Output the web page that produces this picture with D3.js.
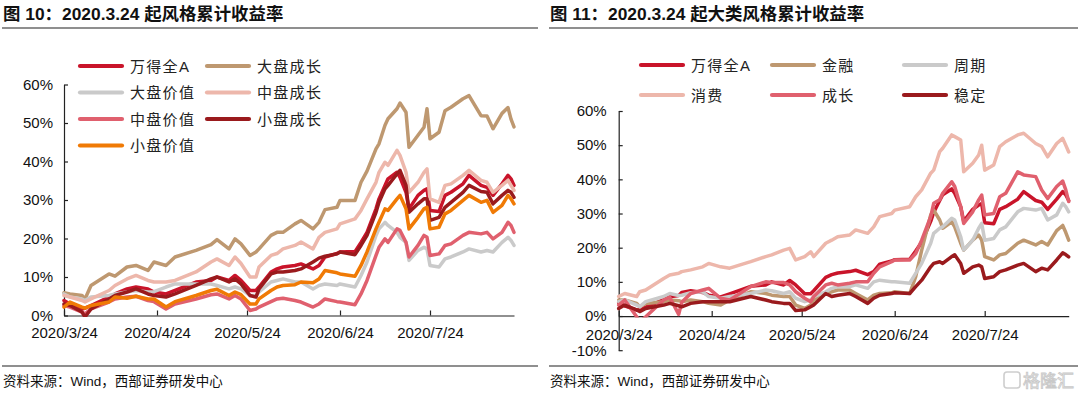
<!DOCTYPE html>
<html><head><meta charset="utf-8">
<script src="https://cdn.jsdelivr.net/npm/d3@7"></script>
<style>
body{margin:0;background:#fff;}
svg{display:block;}
text{font-family:"Liberation Sans","Noto Sans CJK SC",sans-serif;}
</style></head>
<body><svg id="c" width="1080" height="393"></svg>
<script>
// ---------- DATA ----------
const datesL = ["2020-03-24","2020-03-26","2020-03-30","2020-03-31","2020-04-02","2020-04-08","2020-04-10","2020-04-14","2020-04-17","2020-04-21","2020-04-23","2020-04-27","2020-04-30","2020-05-07","2020-05-12","2020-05-14","2020-05-18","2020-05-20","2020-05-22","2020-05-25","2020-05-27","2020-05-28","2020-06-01","2020-06-03","2020-06-05","2020-06-09","2020-06-11","2020-06-15","2020-06-17","2020-06-19","2020-06-23","2020-06-24","2020-06-29","2020-07-01","2020-07-03","2020-07-06","2020-07-07","2020-07-09","2020-07-10","2020-07-13","2020-07-14","2020-07-16","2020-07-17","2020-07-20","2020-07-22","2020-07-23","2020-07-24","2020-07-27","2020-07-29","2020-07-31","2020-08-04","2020-08-06","2020-08-10","2020-08-12","2020-08-14","2020-08-17","2020-08-19","2020-08-20","2020-08-21"];
const datesR = ["2020-03-24","2020-03-26","2020-03-30","2020-03-31","2020-04-02","2020-04-08","2020-04-10","2020-04-13","2020-04-14","2020-04-17","2020-04-21","2020-04-23","2020-04-27","2020-04-30","2020-05-07","2020-05-12","2020-05-14","2020-05-18","2020-05-20","2020-05-22","2020-05-25","2020-05-27","2020-05-28","2020-06-01","2020-06-03","2020-06-05","2020-06-09","2020-06-11","2020-06-15","2020-06-17","2020-06-19","2020-06-23","2020-06-24","2020-06-29","2020-07-01","2020-07-03","2020-07-06","2020-07-07","2020-07-09","2020-07-10","2020-07-13","2020-07-14","2020-07-16","2020-07-17","2020-07-20","2020-07-22","2020-07-23","2020-07-24","2020-07-27","2020-07-29","2020-07-31","2020-08-04","2020-08-06","2020-08-10","2020-08-12","2020-08-14","2020-08-17","2020-08-19","2020-08-20","2020-08-21"];
const xTickDates = ["2020-03-24","2020-04-24","2020-05-24","2020-06-24","2020-07-24"];
const yTicksL = [0,10,20,30,40,50,60];
const yTicksR = [-10,0,10,20,30,40,50,60];

// Left chart (figure 10) series, cumulative return %
const allA_L = [3.9,3.0,1.7,1.9,2.6,4.8,5.6,6.9,7.4,6.9,6.1,5.6,6.5, 8.7,9.1,10.0,9.1,10.4,9.1,6.5,6.5,7.4, 11.3,12.1,12.6,13.0,13.4,12.1,13.0,15.2,16.1,16.5,16.6, 19.0,21.6,27.7,30.3,33.8,35.5,37.2,35.9,32.0,27.7,31.2,32.5,32.9,27.3,27.0,31.2,32.0, 34.2,36.4,33.8,33.3,31.2,34.2,36.4,35.5,33.8];
const largeGrowth = [5.9,5.6,5.2,4.3,7.8,10.8,10.2,12.6,13.0,11.7,13.9,13.0,15.2, 16.9,18.4,19.7,17.3,19.9,18.6,15.6,16.5,17.3, 20.8,21.6,21.6,23.8,24.7,22.5,24.2,27.5,28.1,29.9,29.9, 34.6,37.5,43.3,44.6,49.4,51.1,53.7,55.2,52.8,43.7,46.8,48.9,53.7,45.9,47.6,53.2,54.1, 56.3,57.1,51.9,51.8,48.5,52.5,54.0,51.0,49.0];
const largeValue = [5.6,4.8,4.3,3.9,4.8,5.2,5.6,6.1,6.5,6.1,6.2,7.4,8.2, 8.2,8.2,7.8,6.9,7.4,6.9,5.2,5.2,6.1, 8.7,9.1,9.5,8.7,8.7,6.9,7.8,8.2,7.8,8.2,7.4, 10.4,13.9,20.8,22.5,24.2,23.4,21.6,20.3,19.0,14.3,16.9,17.7,17.3,13.0,12.6,14.7,15.2, 16.5,17.3,16.5,16.9,16.5,19.0,20.3,19.5,18.2];
const midGrowth = [5.2,4.8,3.9,3.5,4.3,6.5,7.8,9.5,10.4,9.1,8.7,8.7,9.1, 11.3,13.9,14.7,13.0,15.2,13.5,10.0,10.0,12.6, 15.6,16.1,17.3,18.2,19.1,17.3,20.3,21.6,22.5,23.8,25.1, 27.3,30.3,34.6,37.2,39.8,39.0,42.9,41.6,37.2,32.0,34.6,37.2,38.1,30.3,29.4,33.8,34.2, 36.4,37.7,35.1,34.6,32.0,33.8,35.1,33.8,32.5];
const midValue = [2.6,2.2,0.9,0.4,1.7,3.5,4.3,4.8,5.0,3.9,3.6,1.7,3.0, 4.3,5.4,5.6,4.3,5.2,4.3,1.3,1.7,2.2, 3.6,4.3,4.5,3.9,3.5,2.2,3.0,4.3,3.6,3.5,2.8, 5.6,9.1,15.6,17.7,19.9,19.0,22.5,22.1,19.0,15.2,18.2,20.8,20.3,15.6,16.0,18.2,18.6, 20.8,21.6,21.2,21.6,19.9,21.6,24.2,23.4,21.6];
const smallGrowth = [3.0,2.6,0.9,-0.4,1.7,4.3,5.2,6.1,6.9,5.6,5.2,4.8,5.6, 7.8,9.5,10.0,8.7,9.5,8.2,5.2,4.8,6.9, 10.8,11.3,11.3,11.7,12.1,13.9,14.9,15.4,16.0,16.5,15.8, 18.2,20.8,26.8,29.4,32.9,33.8,36.8,37.7,33.8,26.8,29.0,30.3,30.3,24.7,25.5,28.1,29.4, 32.0,33.8,32.2,32.0,29.0,31.2,32.5,32.0,30.7];
const smallValue = [2.2,3.5,2.2,1.9,2.6,3.5,4.8,4.5,5.0,4.3,4.3,2.2,3.6, 5.2,6.5,6.8,5.2,6.1,5.4,3.0,3.0,4.3, 6.5,7.4,7.8,8.0,8.7,8.5,9.5,11.7,11.1,10.8,10.2, 13.0,16.5,22.5,24.2,27.7,27.3,30.3,31.2,27.7,22.5,25.5,27.7,28.1,22.5,22.9,26.4,27.3, 29.9,31.2,29.4,29.9,26.8,28.6,31.2,30.3,29.0];

// Right chart (figure 11) series, cumulative return %
const allA_R = [3.9,3.0,1.7,1.9,2.6,4.8,5.6,6.0,6.9,7.4,6.9,6.1,5.6,6.5, 8.7,9.1,10.0,9.1,10.4,9.1,6.5,6.5,7.4, 11.3,12.1,12.6,13.0,13.4,12.1,13.0,15.2,16.1,16.5,16.6, 19.0,21.6,27.7,30.3,33.8,35.5,37.2,35.9,32.0,27.7,31.2,32.5,32.9,27.3,27.0,31.2,32.0, 34.2,36.4,33.8,33.3,31.2,34.2,36.4,35.5,33.8];
const finance = [4.7,4.7,3.7,2.7,3.7,4.2,4.7,4.5,4.2,4.7,4.2,3.7,3.2,4.7, 7.1,6.6,6.1,5.7,5.7,3.2,2.2,3.2,4.7, 6.6,7.1,7.6,7.6,6.6,4.7,6.1,6.6,6.8,7.1,6.6, 11.5,19.3,29.6,31.0,28.1,25.7,27.6,26.1,21.3,19.3,22.2,23.7,22.2,17.4,16.4,17.9,18.3, 21.3,22.2,20.8,21.8,20.8,25.0,26.5,24.5,22.2];
const cyclical = [4.2,4.7,3.2,2.7,4.2,5.7,6.6,6.0,6.1,6.8,7.1,5.7,5.2,5.7, 6.6,7.6,7.4,6.6,7.1,5.2,4.2,4.7,5.7, 7.1,8.1,8.6,8.6,9.1,8.1,10.0,10.5,10.0,10.0,9.6, 12.5,15.4,21.3,24.2,25.7,26.1,28.6,28.1,23.2,19.3,22.2,25.7,27.1,22.2,22.7,25.2,26.1, 30.5,31.5,31.0,31.5,28.1,29.6,33.0,32.0,30.5];
const consumer = [5.7,6.6,5.7,7.1,7.6,11.0,12.0,12.5,13.0,13.5,14.4,15.4,14.4,14.0, 15.9,17.4,17.9,19.3,19.8,16.4,17.4,18.8,17.4, 21.3,22.2,23.2,23.7,25.2,24.2,26.1,29.1,30.0,31.0,32.0, 34.9,36.9,41.8,42.7,48.1,49.1,53.0,52.5,51.5,42.2,44.7,47.1,50.0,42.7,44.2,49.6,51.0, 53.0,53.5,50.5,49.6,46.6,50.5,52.0,50.0,48.0];
const growth = [3.2,4.7,-0.2,-1.7,-0.2,4.7,5.5,0.5,4.0,6.6,7.6,8.1,5.2,4.7, 8.6,10.0,9.8,9.8,9.1,7.1,5.2,4.2,5.7, 9.1,9.6,9.1,9.6,10.0,10.0,12.5,14.4,15.9,16.4,16.4, 18.3,22.2,29.1,33.0,34.0,35.9,39.3,37.9,32.0,27.1,30.5,34.0,35.4,29.6,30.0,34.9,35.9, 42.2,41.3,40.8,36.9,34.4,37.9,39.5,37.0,33.5];
const stable = [2.2,3.2,1.8,1.3,2.2,3.2,3.7,3.0,2.7,3.7,4.2,4.2,4.2,4.2, 5.7,4.7,4.2,3.7,3.7,1.6,1.8,2.7,3.2, 6.6,5.7,6.1,6.6,5.7,3.7,5.2,6.1,6.6,6.8,6.6, 8.6,10.5,14.4,15.4,15.9,15.4,17.4,17.9,15.4,12.5,14.4,14.9,14.4,11.0,11.5,13.0,13.5, 14.9,15.4,13.0,14.0,13.5,16.4,18.5,18.0,17.3];

const namesL = ["万得全A","大盘成长","大盘价值","中盘成长","中盘价值","小盘成长","小盘价值"];
const namesR = ["万得全A","金融","周期","消费","成长","稳定"];

// ---------- DRAW ----------
const C = {red:"#C9142A", tan:"#BE9870", grey:"#CACACA", pink:"#EDB7AB", rose:"#E0606E", dark:"#9A1A1D", orange:"#F07A05"};
const parse = d3.timeParse("%Y-%m-%d");
const svg = d3.select("#c");

function header(x0, x1, title, src) {
  svg.append("line").attr("x1",x0).attr("x2",x1).attr("y1",28).attr("y2",28).attr("stroke","#6a6a6a").attr("stroke-width",1.3);
  svg.append("line").attr("x1",x0).attr("x2",x1).attr("y1",366).attr("y2",366).attr("stroke","#6a6a6a").attr("stroke-width",1.3);
  svg.append("text").attr("x",x0+1).attr("y",19.5).attr("font-size",17.4).attr("fill","#111").attr("font-weight","bold").text(title);
  svg.append("text").attr("x",x0+1).attr("y",385.5).attr("font-size",13.5).attr("fill","#111").text(src);
}
header(2, 538, "图 10：2020.3.24 起风格累计收益率", "资料来源：Wind，西部证券研发中心");
header(549, 1078, "图 11：2020.3.24 起大类风格累计收益率", "资料来源：Wind，西部证券研发中心");

function chart(cfg) {
  const g = svg.append("g");
  const dates = cfg.dates.map(parse);
  const x = d3.scaleTime().domain([parse("2020-03-24"), parse("2020-08-21")]).range(cfg.xr);
  const y = d3.scaleLinear().domain(cfg.yd).range(cfg.yr);
  const id = "clip"+cfg.id;
  svg.append("defs").append("clipPath").attr("id",id).append("rect")
    .attr("x",cfg.xr[0]-5).attr("width",cfg.xr[1]-cfg.xr[0]+12)
    .attr("y",cfg.yr[1]-10).attr("height",y(Math.max(0,cfg.yd[0]))-cfg.yr[1]+11.5);
  const ya = g.append("g").attr("transform",`translate(${cfg.xr[0]},0)`)
    .call(d3.axisLeft(y).tickValues(cfg.yticks).tickSizeInner(-4).tickSizeOuter(0).tickPadding(cfg.ypad).tickFormat(d=>d+"%"));
  ya.selectAll("text").attr("font-size",15).attr("fill","#111").attr("font-family","Liberation Sans, sans-serif");
  ya.selectAll("line,path").attr("stroke","#222").attr("stroke-width",1.2);
  const xa = g.append("g").attr("transform",`translate(0,${y(0)})`)
    .call(d3.axisBottom(x).tickValues(xTickDates.map(parse)).tickSizeInner(-5).tickSizeOuter(0).tickPadding(cfg.xpad).tickFormat(d3.timeFormat("%Y/%-m/%-d")));
  xa.selectAll("text").attr("font-size",15).attr("fill","#111").attr("font-family","Liberation Sans, sans-serif");
  xa.selectAll("line,path").attr("stroke","#222").attr("stroke-width",1.2);
  const line = d3.line().x((d,i)=>x(dates[i])).y(d=>y(d)).curve(d3.curveLinear);
  const lg = g.append("g").attr("clip-path",`url(#${id})`);
  cfg.series.forEach(s=>{
    lg.append("path").attr("d",line(s.values)).attr("fill","none").attr("stroke",s.color)
      .attr("stroke-width",3.5).attr("stroke-linejoin","round").attr("stroke-linecap","round");
  });
  cfg.series.forEach((s,i)=>{
    const c = i % cfg.legCols.length, r = Math.floor(i / cfg.legCols.length);
    const lx = cfg.legCols[c], ly = cfg.legRows[r];
    g.append("line").attr("x1",lx).attr("x2",lx+42).attr("y1",ly).attr("y2",ly)
      .attr("stroke",s.color).attr("stroke-width",4.2).attr("stroke-linecap","round");
    g.append("text").attr("x",lx+50).attr("y",ly+5.5).attr("font-size",15).attr("letter-spacing",1.3)
      .attr("fill","#222").attr("font-family","Noto Sans CJK SC, sans-serif").text(s.name);
  });
}

chart({id:"L", dates:datesL, xr:[64,514], yd:[0,60], yr:[315.5,84.5], yticks:yTicksL, ypad:11, xpad:12,
  legCols:[80,207], legRows:[66,92.5,119,145.5],
  series:[
    {name:namesL[0], values:allA_L, color:C.red},
    {name:namesL[1], values:largeGrowth, color:C.tan},
    {name:namesL[2], values:largeValue, color:C.grey},
    {name:namesL[3], values:midGrowth, color:C.pink},
    {name:namesL[4], values:midValue, color:C.rose},
    {name:namesL[5], values:smallGrowth, color:C.dark},
    {name:namesL[6], values:smallValue, color:C.orange}
  ]});

chart({id:"R", dates:datesR, xr:[618.7,1068.7], yd:[-10,60], yr:[350.2,111], yticks:yTicksR, ypad:12, xpad:13,
  legCols:[641,772,904], legRows:[65,95],
  series:[
    {name:namesR[0], values:allA_R, color:C.red},
    {name:namesR[1], values:finance, color:C.tan},
    {name:namesR[2], values:cyclical, color:C.grey},
    {name:namesR[3], values:consumer, color:C.pink},
    {name:namesR[4], values:growth, color:C.rose},
    {name:namesR[5], values:stable, color:C.dark}
  ]});

const wm = svg.append("g").attr("opacity",0.9);
wm.append("rect").attr("x",1004).attr("y",372).attr("width",16).attr("height",16).attr("rx",3)
  .attr("fill","none").attr("stroke","#c9c9c9").attr("stroke-width",1.6);
wm.append("text").attr("x",1023).attr("y",387).attr("font-size",17).attr("fill","#fff")
  .attr("stroke","#c4c4c4").attr("stroke-width",0.9).attr("font-family","Noto Sans CJK SC, sans-serif").text("格隆汇");
</script></body></html>
